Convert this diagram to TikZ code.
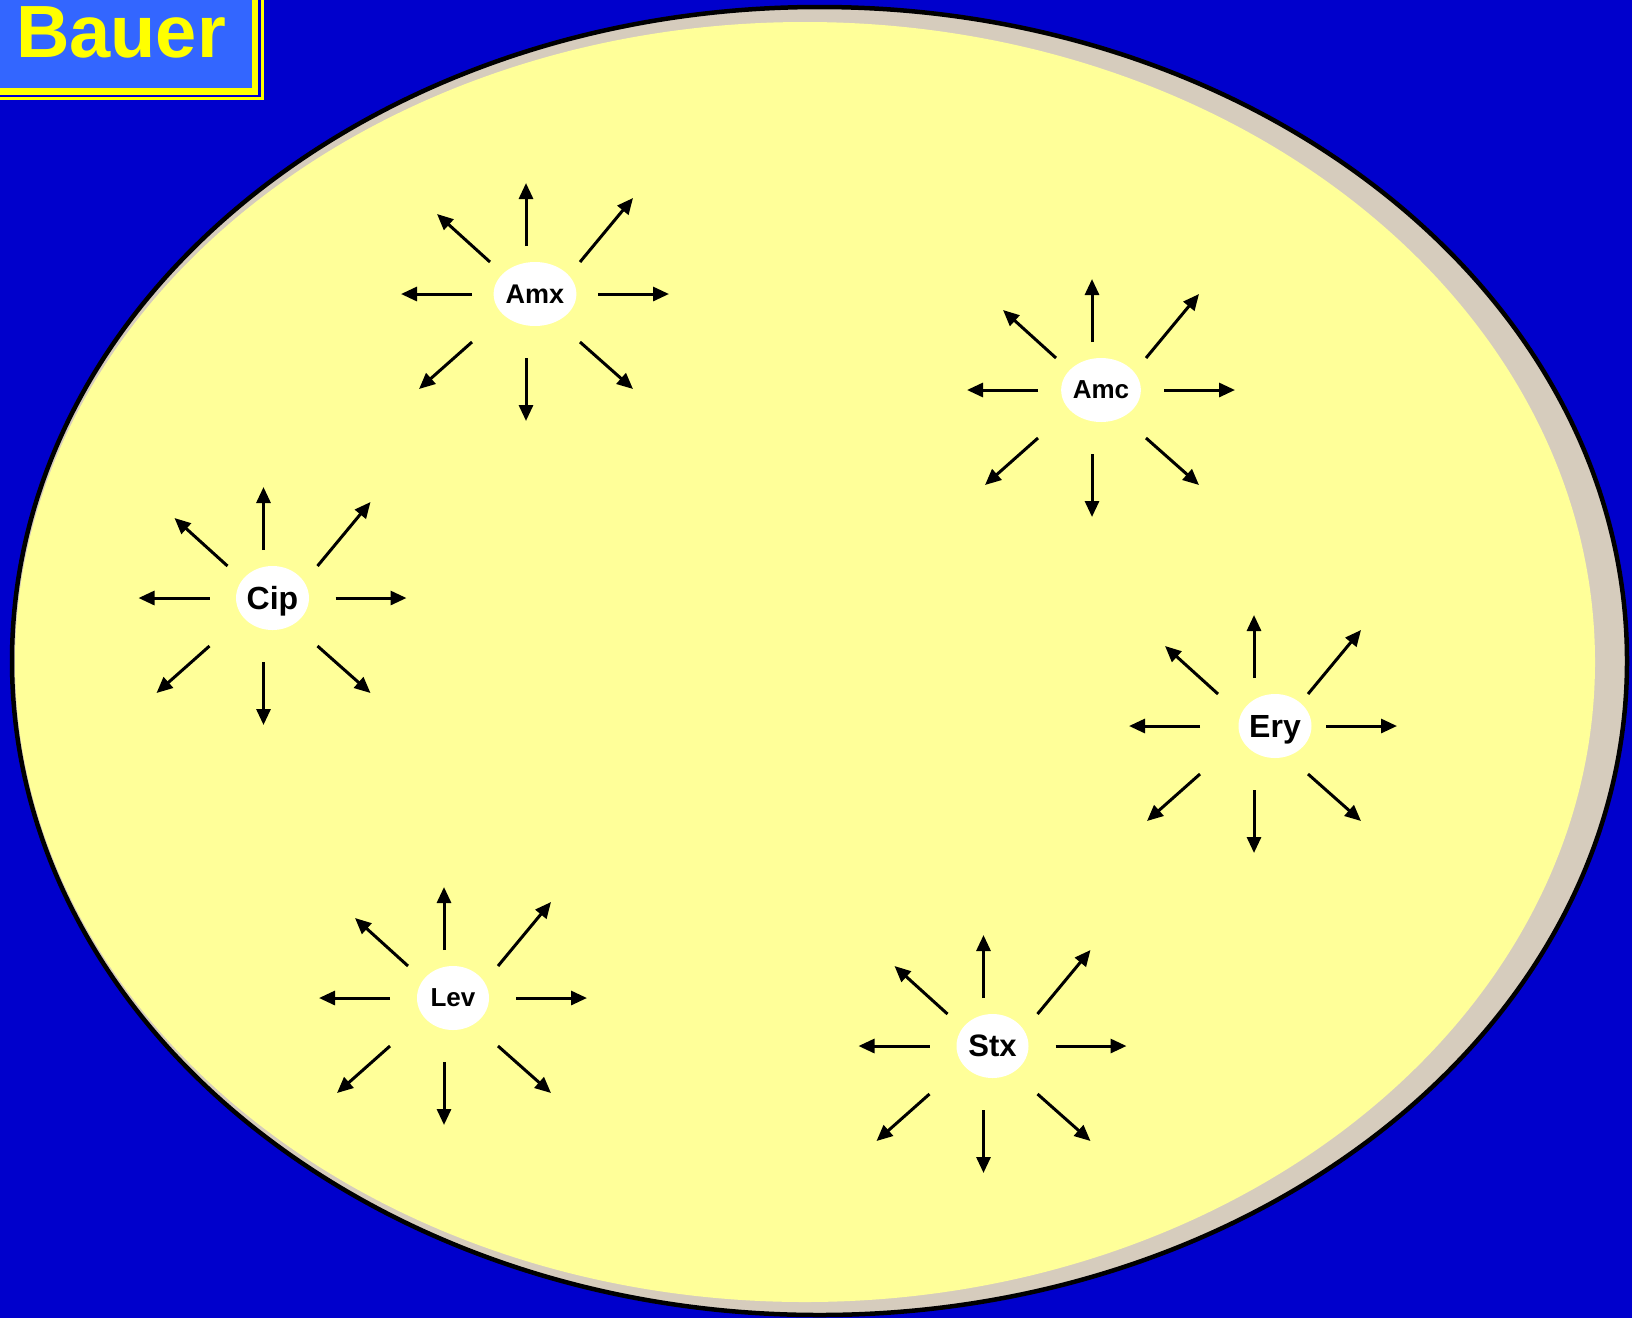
\documentclass[tikz,border=0pt]{standalone}
\usepackage{fontspec}
\setmainfont{Liberation Sans}
\usetikzlibrary{arrows.meta,shapes.geometric}
\definecolor{bgblue}{RGB}{0,0,204}
\definecolor{boxblue}{RGB}{51,102,255}
\definecolor{titleyellow}{RGB}{255,255,0}
\definecolor{agar}{RGB}{255,255,153}
\definecolor{rim}{RGB}{214,204,189}
\tikzset{
  agent/.style={ellipse, fill=white, draw=none, minimum width=72pt, minimum height=64pt, inner sep=0pt, text depth=0pt},
  spoke/.style={line width=3pt, -{Triangle[length=16pt,width=14pt]}}
}
\newcommand\burst[6]{%
  \begin{scope}[shift={(#2,#3)}]
    \coordinate (#1c) at (0,0);
    \node[agent, font=\fontsize{#5}{#5}\selectfont\bfseries] (#1) at (#4,0) {#6};
    \draw[spoke] ([shift={(-9,-48)}]#1c) -- ([shift={(-9,-111)}]#1c);
    \draw[spoke] ([shift={(-9,64)}]#1c) -- ([shift={(-9,127)}]#1c);
    \draw[spoke] ([shift={(-63,0)}]#1c) -- ([shift={(-134,0)}]#1c);
    \draw[spoke] ([shift={(63,0)}]#1c) -- ([shift={(134,0)}]#1c);
    \draw[spoke] ([shift={(-45,-32)}]#1c) -- ([shift={(-98,-80)}]#1c);
    \draw[spoke] ([shift={(45,-32)}]#1c) -- ([shift={(98,-96)}]#1c);
    \draw[spoke] ([shift={(-63,48)}]#1c) -- ([shift={(-116,95)}]#1c);
    \draw[spoke] ([shift={(45,48)}]#1c) -- ([shift={(98,95)}]#1c);
  \end{scope}}
\begin{document}
\begin{tikzpicture}[x=1pt,y=-1pt]
  \fill[bgblue] (0,0) rectangle (1632,1318);
  \useasboundingbox (0,0) rectangle (1632,1318);
  % dish
  \fill[rim] (819.5,661) ellipse [x radius=807.5, y radius=654];
  \fill[agar] (805,662) ellipse [x radius=790, y radius=640];
  \draw[black, line width=4.5pt] (819.5,661) ellipse [x radius=807.5, y radius=654];
  % title box
  \draw[titleyellow, line width=3.3pt] (-10,-10) rectangle (262.3,98.3);
  \filldraw[fill=boxblue, draw=titleyellow, line width=6.6pt] (-10,-10) rectangle (255,91.6);
  \node[anchor=base west, inner sep=0pt, text=titleyellow, font=\fontsize{74}{74}\selectfont\bfseries] (title) at (16,57) {Bauer};
  % colonies
  \burst{amx}{535}{294}{0}{27}{Amx}
  \burst{amc}{1101}{390}{0}{26}{Amc}
  \burst{cip}{272.5}{598}{0}{32}{Cip}
  \burst{ery}{1263}{726}{12}{32}{Ery}
  \burst{lev}{453}{998}{0}{26}{Lev}
  \burst{stx}{992.5}{1046}{0}{31}{Stx}
\end{tikzpicture}
\end{document}
